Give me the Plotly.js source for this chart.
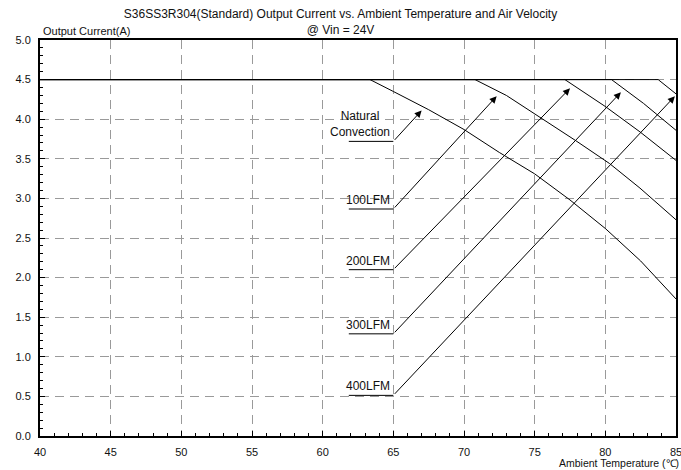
<!DOCTYPE html>
<html>
<head>
<meta charset="utf-8">
<script src="https://cdn.plot.ly/plotly-3.0.1.min.js"></script>
<style>html,body{margin:0;padding:0;background:#fff;}#chart{width:681px;height:470px;}</style>
</head>
<body>
<div id="chart"></div>
<script>
// Derating curves (Ambient temperature °C vs output current A)
const tempNC   = [40, 63.35, 65, 67.5, 70, 72.5, 75, 77.5, 80, 82.5, 85];
const currNC   = [4.5, 4.5, 4.35, 4.12, 3.87, 3.58, 3.31, 2.98, 2.62, 2.21, 1.73];
const temp100  = [40, 70.78, 73, 75.5, 77.9, 80.3, 82.45, 85];
const curr100  = [4.5, 4.5, 4.3, 4.01, 3.73, 3.44, 3.13, 2.73];
const temp200  = [40, 77.14, 80, 82.45, 85];
const curr200  = [4.5, 4.5, 4.16, 3.84, 3.48];
const temp300  = [40, 80.44, 82.7, 85];
const curr300  = [4.5, 4.5, 4.2, 3.86];
const temp400  = [40, 83.74, 85];
const curr400  = [4.5, 4.5, 4.32];

// Callout labels: text, label line level (A), arrow head point (°C, A)
const labelText  = ["Natural<br>Convection", "100LFM", "200LFM", "300LFM", "400LFM"];
const labelLevel = [3.72, 2.866, 2.10, 1.29, 0.513];
const headTemp   = [67.0, 72.31, 77.5, 81.1, 84.92];
const headCurr   = [4.11, 4.29, 4.39, 4.34, 4.29];
const leaderStartT = 61.85;
const leaderEndT   = 65.0;

const xTicks = [40, 45, 50, 55, 60, 65, 70, 75, 80, 85];
const yTicks = [0, 0.5, 1, 1.5, 2, 2.5, 3, 3.5, 4, 4.5, 5];

const FONT = "Liberation Sans, Arial, sans-serif";
const line = {color: "#000", width: 1};
const series = [[tempNC, currNC], [temp100, curr100], [temp200, curr200], [temp300, curr300], [temp400, curr400]];
const traces = series.map(s => ({x: s[0], y: s[1], mode: "lines", line: line, hoverinfo: "skip", showlegend: false}));

const shapes = [];
const annotations = [];
labelText.forEach((t, i) => {
  shapes.push({type: "line", xref: "x", yref: "y", x0: leaderStartT, x1: leaderEndT, y0: labelLevel[i], y1: labelLevel[i], line: {color: "#000", width: 1}});
  annotations.push({x: headTemp[i], y: headCurr[i], xref: "x", yref: "y", ax: leaderEndT, ay: labelLevel[i], axref: "x", ayref: "y",
    text: "", showarrow: true, arrowhead: 2, arrowsize: 1.4, arrowwidth: 1, arrowcolor: "#000", standoff: 0, startstandoff: 0});
  annotations.push({x: leaderEndT, y: labelLevel[i], xref: "x", yref: "y", xanchor: "right", yanchor: "bottom", showarrow: false,
    text: t, align: "center", xshift: -1, yshift: 0, font: {family: FONT, size: 12, color: "#111"}});
});
annotations.push({xref: "paper", yref: "paper", x: 0, y: 1, xanchor: "left", yanchor: "bottom", xshift: 1, yshift: 1, showarrow: false,
  text: "Output Current(A)", font: {family: FONT, size: 11, color: "#111"}});
annotations.push({xref: "paper", yref: "paper", x: 1, y: 0, xanchor: "right", yanchor: "top", xshift: 4, yshift: -20, showarrow: false,
  borderpad: 0, text: "Ambient Temperature (℃)", font: {family: FONT, size: 10.5, color: "#111"}});

const layout = {
  width: 681, height: 470,
  margin: {l: 40, r: 5, t: 40, b: 34},
  paper_bgcolor: "#fff", plot_bgcolor: "#fff",
  font: {family: FONT, size: 11, color: "#111"},
  title: {text: "S36SS3R304(Standard) Output Current vs. Ambient Temperature and Air Velocity<br>@ Vin = 24V",
    xref: "container", x: 0.5, yref: "container", y: 1 - 18/470, yanchor: "top", font: {family: FONT, size: 12, color: "#111"}},
  xaxis: {range: [40, 85], tickvals: xTicks, ticktext: xTicks.map(String), ticks: "inside", ticklen: 5, tickcolor: "#000",
    showline: true, linecolor: "#000", linewidth: 2, mirror: true, zeroline: false, ticklabelstandoff: 5,
    ticklabeloverflow: "allow",
    showgrid: true, gridcolor: "#9a9a9a", griddash: "9px,6px", gridwidth: 1,
    minor: {dtick: 1, ticks: "inside", ticklen: 3, tickcolor: "#000", showgrid: false},
    tickfont: {family: FONT, size: 11, color: "#111"}, fixedrange: true},
  yaxis: {range: [0, 5], tickvals: yTicks, ticktext: yTicks.map(v => v.toFixed(1)), ticks: "inside", ticklen: 5, tickcolor: "#000",
    showline: true, linecolor: "#000", linewidth: 2, mirror: true, zeroline: false, ticklabelstandoff: 5,
    showgrid: true, gridcolor: "#9a9a9a", griddash: "9px,6px", gridwidth: 1,
    minor: {dtick: 0.1, ticks: "inside", ticklen: 3, tickcolor: "#000", showgrid: false},
    tickfont: {family: FONT, size: 11, color: "#111"}, fixedrange: true},
  shapes: shapes,
  annotations: annotations
};
Plotly.newPlot("chart", traces, layout, {displayModeBar: false, staticPlot: true});
</script>
</body>
</html>
